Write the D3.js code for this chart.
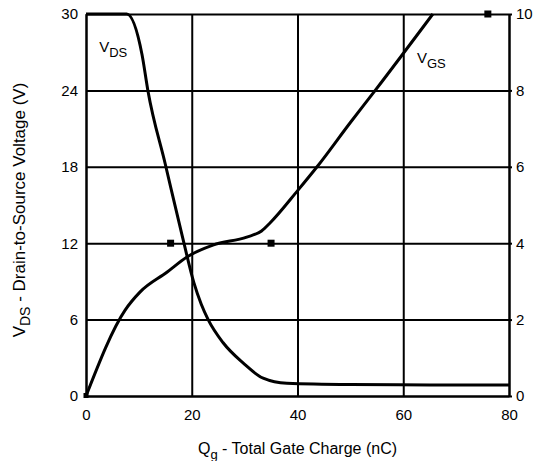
<!DOCTYPE html>
<head>
<meta charset="utf-8">
<style>
body { margin: 0; background: #fff; }
text { font-family: Arial, "Liberation Sans", Helvetica, sans-serif; fill: #000; }
.axis path, .axis line { stroke: #000; stroke-width: 2px; }
.grid line { stroke: #000; stroke-width: 2px; }
.grid path { display: none; }
.curve { fill: none; stroke: #000; stroke-width: 3px; stroke-linejoin: round; }
</style>
<script src="https://cdn.jsdelivr.net/npm/d3@7"></script>
</head>
<body>
<script>
// V_DS vs gate charge (left axis, V)
var qVds = [0, 7.7, 10.6, 11.7, 15, 18.3, 20.4, 21.8, 23.1, 25.9, 29.7, 33.5, 38, 50, 65, 80];
var vds  = [30, 30, 26.8, 24, 18.2, 12.4, 8.9, 7.2, 6.0, 4.2, 2.6, 1.4, 1.0, 0.9, 0.87, 0.86];
// V_GS vs gate charge (right axis, V)
var qVgs = [0, 7.4, 10.2, 15.3, 19.1, 24, 30.4, 33.2, 34.8, 40.1, 43.7, 50, 54.7, 65.6];
var vgs  = [0, 2.25, 2.72, 3.24, 3.64, 3.95, 4.16, 4.32, 4.53, 5.39, 6.0, 7.16, 8.0, 10];
// square markers (left-axis units)
var markQ = [16, 35, 76];
var markV = [12, 12, 30];

var xTicks = [0, 20, 40, 60, 80],
    yTicks = [0, 6, 12, 18, 24, 30],
    y2Ticks = [0, 2, 4, 6, 8, 10];

var margin = {top: 14, right: 24, bottom: 65, left: 86},
    width = 533 - margin.left - margin.right,
    height = 461 - margin.top - margin.bottom;

var svg = d3.select("body").append("svg")
    .attr("width", 533)
    .attr("height", 461)
  .append("g")
    .attr("transform", "translate(" + margin.left + "," + margin.top + ")");

var x = d3.scaleLinear().domain([0, 80]).range([0, width]);
var y = d3.scaleLinear().domain([0, 30]).range([height, 0]);
var y2 = d3.scaleLinear().domain([0, 10]).range([height, 0]);

// grid
svg.append("g")
    .attr("class", "grid")
    .call(d3.axisBottom(x).tickValues(xTicks).tickSize(height).tickFormat(""));
svg.append("g")
    .attr("class", "grid")
    .call(d3.axisLeft(y).tickValues(yTicks).tickSize(-width).tickFormat(""));

// axes
svg.append("g")
    .attr("class", "axis")
    .attr("transform", "translate(0," + height + ")")
    .call(d3.axisBottom(x).tickValues(xTicks).tickSize(0).tickPadding(13).tickSizeOuter(0))
    .selectAll("text").style("font-size", "15px");
svg.append("g")
    .attr("class", "axis")
    .call(d3.axisLeft(y).tickValues(yTicks).tickSize(0).tickPadding(8).tickSizeOuter(0))
    .selectAll("text").style("font-size", "15px");
svg.append("g")
    .attr("class", "axis")
    .attr("transform", "translate(" + width + ",0)")
    .call(d3.axisRight(y2).tickValues(y2Ticks).tickSize(3).tickPadding(4).tickSizeOuter(0))
    .selectAll("text").style("font-size", "15px");
svg.selectAll(".axis text").attr("fill", "#000");

// curves
var lineVds = d3.line()
    .curve(d3.curveMonotoneX)
    .x(function(d, i) { return x(qVds[i]); })
    .y(function(d) { return y(d); });
var lineVgs = d3.line()
    .curve(d3.curveMonotoneX)
    .x(function(d, i) { return x(qVgs[i]); })
    .y(function(d) { return y2(d); });

svg.append("path").datum(vds).attr("class", "curve").attr("d", lineVds);
svg.append("path").datum(vgs).attr("class", "curve").attr("d", lineVgs);

// markers
svg.selectAll(".mark")
    .data(markQ)
  .enter().append("rect")
    .attr("class", "mark")
    .attr("x", function(d) { return x(d) - 3.5; })
    .attr("y", function(d, i) { return y(markV[i]) - 3.5; })
    .attr("width", 7)
    .attr("height", 7)
    .attr("fill", "#000");
svg.append("rect")
    .attr("x", x(0) - 2.5).attr("y", y(0) - 3)
    .attr("width", 5).attr("height", 5).attr("fill", "#000");

// curve labels
function subLabel(px, py, main, sub) {
  var t = svg.append("text").attr("x", px).attr("y", py).style("font-size", "15px");
  t.append("tspan").text(main);
  t.append("tspan").attr("dy", 5).style("font-size", "13px").text(sub);
}
subLabel(x(2.5), y(27), "V", "DS");
subLabel(x(62.6), y(26.15), "V", "GS");

// axis titles
var xt = svg.append("text")
    .attr("x", width / 2)
    .attr("y", height + 58)
    .attr("text-anchor", "middle")
    .style("font-size", "16px");
xt.append("tspan").text("Q");
xt.append("tspan").attr("dy", 5).style("font-size", "13px").text("g");
xt.append("tspan").attr("dy", -5).text(" - Total Gate Charge (nC)");

var yt = svg.append("text")
    .attr("transform", "translate(" + (-61) + "," + (height / 2 + 5) + ") rotate(-90)")
    .attr("text-anchor", "middle")
    .style("font-size", "17px");
yt.append("tspan").text("V");
yt.append("tspan").attr("dy", 5).style("font-size", "14px").text("DS");
yt.append("tspan").attr("dy", -5).text(" - Drain-to-Source Voltage (V)");
</script>
</body>
